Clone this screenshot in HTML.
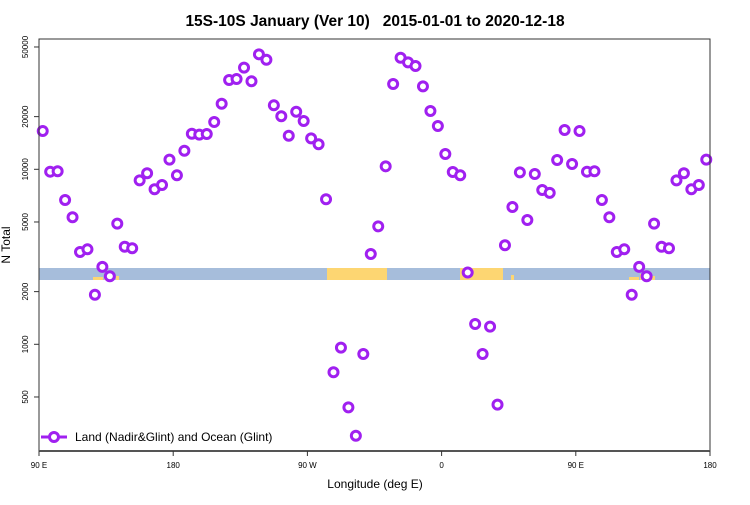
<!DOCTYPE html>
<html><head><meta charset="utf-8"><style>
body{margin:0;background:#fff}
svg{font-family:"Liberation Sans",sans-serif}
</style></head><body>
<svg width="750" height="500" viewBox="0 0 750 500">
<g id="band"></g>
<g id="pts"></g>
<g id="axes"></g>
<text x="375" y="26" text-anchor="middle" font-size="15.5" font-weight="bold" style="white-space:pre">15S-10S January (Ver 10)   2015-01-01 to 2020-12-18</text>
<text x="375" y="488" text-anchor="middle" font-size="12">Longitude (deg E)</text>
<text transform="translate(10,245) rotate(-90)" text-anchor="middle" font-size="12">N Total</text>
<g>
<line x1="41" y1="437" x2="67" y2="437" stroke="#a020f0" stroke-width="3"/>
<circle cx="54" cy="437" r="4.5" fill="#fff" stroke="#a020f0" stroke-width="3"/>
<text x="75" y="441" font-size="12">Land (Nadir&amp;Glint) and Ocean (Glint)</text>
</g>
</svg>
<script>
const values=[16550,9690,9740,6680,5320,3370,3490,1920,2770,2450,4890,3610,3540,8650,9490,7690,8130,11350,9240,12770,15970,15770,15910,18620,23700,32380,32810,38080,31840,45400,42290,23210,20090,15560,21330,18880,15030,13900,6740,692,957,436,300,880,3280,4720,10400,30720,43420,40840,38930,29790,21530,17680,12230,9650,9240,2570,1306,880,1261,452,3680,6090,9610,5130,9400,7620,7330,11300,16780,10720];
const lonStart=92.5, lonStep=5, lonSpan=450;
const yTicks=[50000,20000,10000,5000,2000,1000,500];
const xTickLabels=["90 E","180","90 W","0","90 E","180"];
const landSegs=[[327,387],[460,503]];
const L=39,R=710,T=39,B=451;
const ns="http://www.w3.org/2000/svg";
function X(d){return L+(d/lonSpan)*(R-L);}
function Y(v){return 169.3-175*(Math.log10(v)-4);}
function mk(t,a,p){const e=document.createElementNS(ns,t);for(const k in a)e.setAttribute(k,a[k]);p.appendChild(e);return e;}
const band=document.getElementById('band');
const br=mk('rect',{x:L,y:268,width:R-L,height:12,fill:'#a6bddb'},band);


landSegs.forEach(s=>{const r=mk('rect',{x:s[0],y:268,width:s[1]-s[0],height:12,fill:'#fdd672'},band);

});
[[93,277,10,3],[104,274,10,6],[116,276,3,4],[511,275,3,5],[629,277,10,3],[640,274,10,6],[652,276,3,4]].forEach(s=>{const r=mk('rect',{x:s[0],y:s[1],width:s[2],height:s[3],fill:'#fdd672'},band);

});
const pts=document.getElementById('pts');
const n=Math.round(lonSpan/lonStep);
for(let i=0;i<n;i++){const v=values[i%values.length];
const c=mk('circle',{cx:X(i*lonStep+lonStart-90),cy:Y(v),r:4.5,fill:'#fff',stroke:'#a020f0','stroke-width':3},pts);

}
const ax=document.getElementById('axes');
mk('rect',{x:L,y:T,width:R-L,height:B-T,fill:'none',stroke:'#333','stroke-width':1},ax);
mk('line',{x1:L,y1:B,x2:R,y2:B,stroke:'#555','stroke-width':2},ax);
yTicks.forEach(v=>{const y=Y(v);mk('line',{x1:L-5,y1:y,x2:L,y2:y,stroke:'#333'},ax);
const t=mk('text',{transform:`translate(28,${y}) rotate(-90)`,'text-anchor':'middle','font-size':8},ax);t.textContent=v;

});
xTickLabels.forEach((s,i)=>{const x=X(i*90);mk('line',{x1:x,y1:B,x2:x,y2:B+5,stroke:'#333'},ax);
const t=mk('text',{x:x,y:468,'text-anchor':'middle','font-size':8},ax);t.textContent=s;

});
</script>
</body></html>
